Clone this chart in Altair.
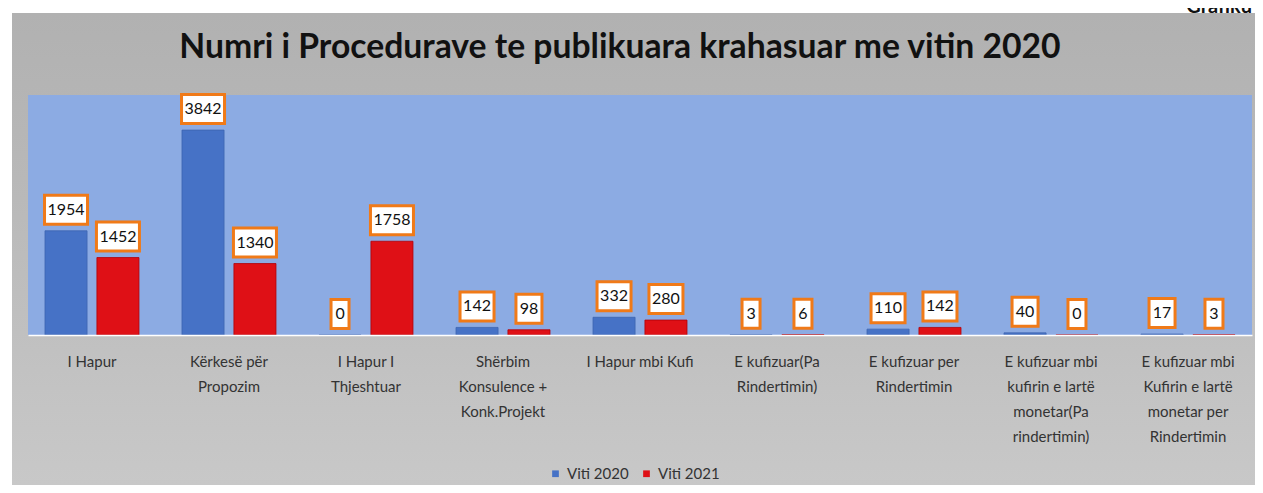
import altair as alt
import pandas as pd

categories = [
    "I Hapur",
    "Kërkesë për\nPropozim",
    "I Hapur I\nThjeshtuar",
    "Shërbim\nKonsulence +\nKonk.Projekt",
    "I Hapur mbi Kufi",
    "E kufizuar(Pa\nRindertimin)",
    "E kufizuar per\nRindertimin",
    "E kufizuar mbi\nkufirin e lartë\nmonetar(Pa\nrindertimin)",
    "E kufizuar mbi\nKufirin e lartë\nmonetar per\nRindertimin",
]
series_names = ["Viti 2020", "Viti 2021"]
values_2020 = [1954, 3842, 0, 142, 332, 3, 110, 40, 17]
values_2021 = [1452, 1340, 1758, 98, 280, 6, 142, 0, 3]

rows = []
for c, v1, v2 in zip(categories, values_2020, values_2021):
    rows.append({"cat": c, "year": series_names[0], "value": v1})
    rows.append({"cat": c, "year": series_names[1], "value": v2})
df = pd.DataFrame(rows)

W, H = 1224, 240
PL, PT, PR, PB = 20, 87, 3, 150

box_paths = [
    "M-0.9,-1.45L0.9,-1.45L0.9,1.45L-0.9,1.45Z",
    "M-1.3,-1.45L1.3,-1.45L1.3,1.45L-1.3,1.45Z",
    "M-1.7,-1.45L1.7,-1.45L1.7,1.45L-1.7,1.45Z",
    "M-2.15,-1.45L2.15,-1.45L2.15,1.45L-2.15,1.45Z",
]

x_enc = alt.X(
    "cat:N",
    sort=categories,
    scale=alt.Scale(paddingInner=0.314, paddingOuter=0.124),
    axis=alt.Axis(
        title=None,
        labelAngle=0,
        ticks=False,
        domainColor="white",
        domainWidth=1.5,
        labelExpr="split(datum.label, '\\n')",
        labelFont="Lato",
        labelFontSize=15,
        labelLineHeight=25,
        labelColor="#333333",
        labelPadding=19,
        labelLimit=0,
        zindex=1,
    ),
)
xo_enc = alt.XOffset("year:N", sort=series_names, scale=alt.Scale(paddingInner=0.19))
y_enc = alt.Y("value:Q", scale=alt.Scale(domain=[0, 4500], nice=False), axis=None)

one = alt.Data(values=[{}])

frame = alt.Chart(one).mark_rect(
    color=alt.LinearGradient(
        gradient="linear",
        x1=0, x2=0, y1=0, y2=1,
        stops=[
            alt.GradientStop(offset=0, color="#b1b1b1"),
            alt.GradientStop(offset=0.35, color="#b8b8b8"),
            alt.GradientStop(offset=1, color="#c8c8c8"),
        ],
    )
).encode(
    x=alt.value(-16), x2=alt.value(W + PR), y=alt.value(-82), y2=alt.value(H + PB)
)

plotbg = alt.Chart(one).mark_rect(color="#8cabe3").encode(
    x=alt.value(0), x2=alt.value(W), y=alt.value(0), y2=alt.value(H)
)

base = alt.Chart(df)

bars = base.mark_bar(strokeWidth=0.8).encode(
    x=x_enc,
    xOffset=xo_enc,
    y=y_enc,
    color=alt.Color(
        "year:N",
        sort=series_names,
        scale=alt.Scale(domain=series_names, range=["#4672c6", "#df1016"]),
        legend=alt.Legend(
            title=None,
            orient="none",
            legendX=520,
            legendY=371,
            direction="horizontal",
            symbolType="square",
            symbolSize=45,
            symbolStrokeWidth=0,
            labelFont="Lato",
            labelFontSize=15,
            labelColor="#333333",
            columnPadding=10,
        ),
    ),
    stroke=alt.Stroke(
        "year:N",
        sort=series_names,
        scale=alt.Scale(domain=series_names, range=["#3d64b0", "#b00008"]),
        legend=None,
    ),
)

boxes = base.transform_calculate(
    nd="toString(length(toString(datum.value)))"
).mark_point(
    fill="white", fillOpacity=1, opacity=1, stroke="#f07a18", strokeWidth=3, size=400, yOffset=-21
).encode(
    x=x_enc,
    xOffset=xo_enc,
    y=y_enc,
    shape=alt.Shape(
        "nd:N", scale=alt.Scale(domain=["1", "2", "3", "4"], range=box_paths), legend=None
    ),
)

labels = base.mark_text(
    font="Lato", fontSize=16, color="#111111", baseline="middle", yOffset=-21
).encode(
    x=x_enc,
    xOffset=xo_enc,
    y=y_enc,
    text=alt.Text("value:Q"),
)

title = alt.Chart(one).mark_text(
    text="Numri i Procedurave te publikuara krahasuar me vitin 2020",
    font="Lato", fontSize=33.7, fontWeight="bold", color="#111111", baseline="middle", align="center",
).encode(x=alt.value(592), y=alt.value(-47))

corner = alt.Chart(one).mark_text(
    text="Grafiku", font="Lato", fontSize=20, fontWeight="bold", color="#111111",
    baseline="alphabetic", align="right",
).encode(x=alt.value(W), y=alt.value(-82))

chart = alt.layer(frame, plotbg, bars, boxes, labels, title, corner).properties(
    width=W,
    height=H,
    autosize=alt.AutoSizeParams(type="none"),
    padding={"left": PL, "top": PT, "right": PR, "bottom": PB},
    background="white",
).configure_view(stroke=None)

chart.save("out.html", embed_options={"renderer": "svg", "actions": False})
